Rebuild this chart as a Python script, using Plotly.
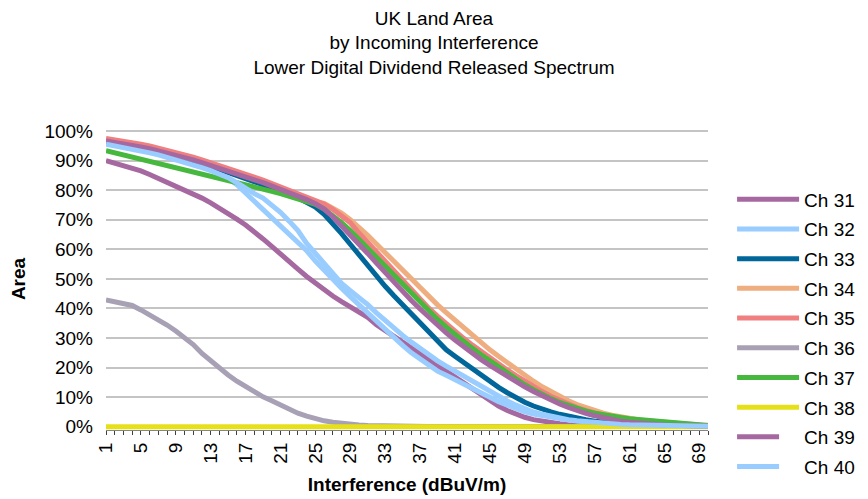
import plotly.graph_objects as go

categories = list(range(1, 71))
x_tick_values = list(range(1, 70, 4))
x_tick_labels = [str(v) for v in x_tick_values]
y_tick_values = list(range(0, 101, 10))
y_tick_labels = [f"{v}%" for v in y_tick_values]

ch31 = [90, 89.2, 88.3, 87.4, 86.5, 85.3, 84, 82.7, 81.5, 80.3,
        79, 77.3, 75.7, 74, 72.2, 70.2, 68.2, 66, 63.5, 61,
        58.3, 55.8, 53.3, 50.8, 48.5, 46.3, 44.2, 42.3, 40.5, 38.7,
        37, 34.5, 32.5, 30.5, 28.5, 26.5, 24.5, 22.6, 20.8, 19,
        17, 15, 13, 11, 9, 7, 5.5, 4.2, 3.2, 2.4,
        1.8, 1.3, 1.0, 0.7, 0.5, 0.35, 0.25, 0.2, 0.15, 0.1,
        0.1, 0.1, 0.1, 0.1, 0.1, 0.1, 0.1, 0.1, 0.1, 0.1]
ch32 = [96, 95.5, 95, 94.4, 93.8, 93.1, 92.4, 91.6, 90.8, 89.9,
        89, 88, 86.9, 85.6, 84, 81.8, 79, 76.2, 73.5, 70.8,
        68, 65.3, 62.5, 59.5, 56, 52.8, 49.7, 46.8, 44, 41.2,
        38.5, 35.5, 32.6, 30, 27.5, 25, 22.8, 20.6, 18.8, 17.4,
        16, 14.5, 13, 11.5, 10, 8.5, 7.2, 6, 5, 4.3,
        3.7, 3.2, 2.7, 2.3, 1.9, 1.5, 1.2, 1, 0.8, 0.65,
        0.5, 0.4, 0.35, 0.3, 0.25, 0.2, 0.2, 0.15, 0.1, 0.1]
ch33 = [96.5, 96, 95.5, 95, 94.4, 93.8, 93.1, 92.4, 91.6, 90.8,
        89.9, 89, 88, 87, 86, 85, 84, 83, 82, 80.9,
        79.8, 78.6, 77.4, 76, 74.3, 71.8, 68.7, 65.3, 61.7, 58,
        54.3, 50.8, 47.5, 44.3, 41.2, 37.8, 35, 32.2, 29, 26,
        23.8, 21.6, 19.4, 17.3, 15.3, 13.3, 11.5, 9.8, 8.3, 7,
        5.9, 5, 4.2, 3.5, 2.9, 2.4, 1.9, 1.5, 1.2, 1,
        0.8, 0.65, 0.5, 0.4, 0.35, 0.3, 0.25, 0.2, 0.15, 0.1]
ch34 = [96.8, 96.4, 95.9, 95.4, 94.8, 94.2, 93.5, 92.8, 92, 91.2,
        90.4, 89.5, 88.6, 87.7, 86.8, 85.8, 84.8, 83.8, 82.8, 81.7,
        80.6, 79.5, 78.4, 77.2, 76, 75.5, 74, 72.2, 70, 67.5,
        64.7, 61.8, 58.8, 55.7, 52.6, 49.6, 46.7, 43.9, 41.2, 38.6,
        36, 33.5, 31, 28.6, 26, 23.8, 21.6, 19.5, 17.4, 15.4,
        13.5, 11.8, 10.2, 8.8, 7.5, 6.4, 5.4, 4.6, 3.9, 3.3,
        2.8, 2.4, 2, 1.7, 1.4, 1.2, 1, 0.8, 0.6, 0.5]
ch35 = [97.5, 97.1, 96.6, 96.1, 95.5, 94.9, 94.2, 93.5, 92.7, 91.9,
        91.1, 90.2, 89.3, 88.4, 87.4, 86.4, 85.4, 84.4, 83.4, 82.3,
        81.2, 80.1, 79, 77.9, 76.8, 75.3, 73.5, 71.4, 69, 65.5,
        62.3, 59, 55.7, 52.4, 49.2, 46, 43, 40.1, 37.4, 34.8,
        32.3, 29.9, 27.6, 25.4, 23.3, 21.2, 19.2, 17.3, 15.4, 13.6,
        11.9, 10.3, 8.9, 7.6, 6.5, 5.5, 4.6, 3.9, 3.3, 2.8,
        2.4, 2, 1.7, 1.4, 1.2, 1, 0.8, 0.6, 0.45, 0.35]
ch36 = [42.9, 42.3, 41.7, 41, 39.5, 37.9, 36.3, 34.4, 32.4, 30.2,
        27.8, 24.8, 22.2, 19.8, 17.5, 15.4, 13.5, 11.7, 10.1, 8.8,
        7.3, 5.9, 4.6, 3.6, 2.7, 2, 1.5, 1.1, 0.8, 0.6,
        0.4, 0.3, 0.25, 0.2, 0.15, 0.1, 0.1, 0.1, 0.1, 0.1,
        0.1, 0.1, 0.1, 0.1, 0.1, 0.1, 0.1, 0.1, 0.1, 0.1,
        0.1, 0.1, 0.1, 0.1, 0.1, 0.1, 0.1, 0.1, 0.1, 0.1,
        0.1, 0.1, 0.1, 0.1, 0.1, 0.1, 0.1, 0.1, 0.1, 0.1]
ch37 = [93.3, 92.6, 91.9, 91.2, 90.5, 89.8, 89.1, 88.4, 87.7, 87,
        86.3, 85.6, 84.9, 84.2, 83.5, 82.8, 82, 81.2, 80.4, 79.6,
        78.8, 78, 77.2, 76.3, 75.2, 73.6, 71.5, 69, 66.3, 63.3,
        60.2, 57, 53.8, 50.7, 47.7, 44.7, 41.8, 39, 36.3, 33.7,
        31.2, 28.8, 26.5, 24.3, 22.2, 20.2, 18.1, 16, 14.2, 12.5,
        10.9, 9.5, 8.2, 7.1, 6.1, 5.3, 4.6, 4, 3.5, 3.1,
        2.7, 2.4, 2.1, 1.8, 1.6, 1.4, 1.1, 0.9, 0.6, 0.4]
ch38 = [0] * 70
ch39 = [96.6, 96.2, 95.7, 95.2, 94.6, 94, 93.3, 92.6, 91.8, 91,
        90.2, 89.3, 88.4, 87.5, 86.5, 85.5, 84.5, 83.5, 82.5, 81.4,
        80.3, 79.2, 78, 76.8, 75.4, 73.6, 71, 68, 65, 61.8,
        58.6, 55.3, 52, 48.8, 45.7, 42.7, 39.8, 37, 34.3, 31.7,
        29.3, 27, 24.8, 22.7, 20.7, 18.8, 17, 15.2, 13.5, 11.9,
        10.4, 9, 7.7, 6.5, 5.4, 4.5, 3.7, 3, 2.4, 1.9,
        1.5, 1.2, 1, 0.8, 0.6, 0.5, 0.4, 0.3, 0.25, 0.2]
ch40 = [95.5, 95, 94.5, 93.9, 93.3, 92.6, 91.9, 91.1, 90.3, 89.4,
        88.5, 87.6, 86.6, 85.5, 84.2, 82.5, 80.5, 78.8, 77.3, 75,
        72.5, 69.5, 66.3, 62, 58.5, 55, 51.8, 48.5, 46, 43.8,
        41.3, 38.5, 35.8, 33.3, 30.9, 28.6, 26.4, 24.3, 22.3, 20.5,
        18.8, 17, 15.3, 13.6, 11.8, 10.2, 8.7, 7.3, 6, 5,
        4.2, 3.5, 2.9, 2.4, 2, 1.7, 1.4, 1.2, 1, 0.8,
        0.65, 0.55, 0.45, 0.4, 0.35, 0.3, 0.25, 0.2, 0.2, 0.15]

series_names = ["Ch 31", "Ch 32", "Ch 33", "Ch 34", "Ch 35",
                "Ch 36", "Ch 37", "Ch 38", "Ch 39", "Ch 40"]
series_values = [ch31, ch32, ch33, ch34, ch35, ch36, ch37, ch38, ch39, ch40]
series_colors = ["#A668A0", "#99CCFF", "#016699", "#EEAE80", "#F08080",
                 "#A8A0B4", "#46B83E", "#E6E019", "#A668A0", "#99CCFF"]
series_dashed = [False, False, False, False, False,
                 False, False, False, True, True]

FONT = "Liberation Sans, Arial, sans-serif"

fig = go.Figure()
for name, vals, col, dashed in zip(series_names, series_values, series_colors, series_dashed):
    fig.add_trace(go.Scatter(
        x=categories, y=vals, name=name, mode="lines",
        line=dict(color=col, width=5),
        legendgroup=name, showlegend=not dashed,
    ))
    if dashed:
        # legend-only entry showing the dashed style (plotted line restarts dash per segment)
        fig.add_trace(go.Scatter(
            x=[None], y=[None], name=name, mode="lines",
            line=dict(color=col, width=5, dash="42px,40px"),
            legendgroup=name, showlegend=True, hoverinfo="skip",
        ))

fig.update_layout(
    width=868, height=499,
    paper_bgcolor="white", plot_bgcolor="white",
    margin=dict(l=98, r=168, t=120, b=77, autoexpand=False),
    font=dict(family=FONT, size=19, color="black"),
    title=dict(
        text="UK Land Area<br>by Incoming Interference<br>Lower Digital Dividend Released Spectrum",
        x=0.4908, xref="container", xanchor="center",
        y=0.9669, yref="container", yanchor="top",
        font=dict(family=FONT, size=19, color="black"),
    ),
    legend=dict(
        x=1.04, xanchor="left", y=0.3265, yanchor="middle",
        font=dict(family=FONT, size=19, color="black"),
        tracegroupgap=2, itemwidth=62,
        bgcolor="rgba(0,0,0,0)",
    ),
    showlegend=True,
)

fig.update_xaxes(
    range=[1, 70], tickmode="array",
    tickvals=x_tick_values, ticktext=x_tick_labels,
    tickangle=-90, tickfont=dict(family=FONT, size=19),
    showgrid=False, zeroline=False,
    showline=True, linecolor="#868686", linewidth=1,
    ticks="outside", ticklen=4, tickcolor="#404040",
    minor=dict(dtick=1, tick0=1, ticks="outside", ticklen=4, tickcolor="#404040"),
    title=dict(text="<b>Interference (dBuV/m)</b>", font=dict(family=FONT, size=19), standoff=14),
)
fig.update_yaxes(
    range=[-1.1, 101], tickmode="array",
    tickvals=y_tick_values, ticktext=y_tick_labels,
    tickfont=dict(family=FONT, size=19),
    showgrid=True, gridcolor="#C4C4C4", gridwidth=2,
    zeroline=False, showline=False, ticks="",
    ticklabelstandoff=12,
    title=dict(text="<b>Area</b>", font=dict(family=FONT, size=19), standoff=16),
)

fig.write_html("out.html")
